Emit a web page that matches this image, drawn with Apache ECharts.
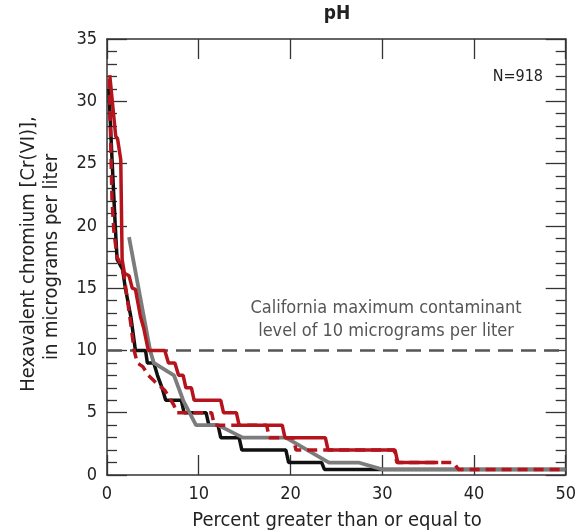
<!DOCTYPE html>
<html>
<head>
<meta charset="utf-8">
<script src="https://cdn.jsdelivr.net/npm/echarts@6/dist/echarts.min.js"></script>
<style>
html,body{margin:0;padding:0;background:#fff;}
#chart{width:579px;height:532px;}
</style>
</head>
<body>
<div id="chart"></div>
<script>
// ---- data (percent greater than or equal to, Cr(VI) µg/L) ----
var blackSeries = [[0.2,31],[0.55,25.3],[0.9,20],[1.1,17.3],[1.7,16.5],[2.0,15],[2.6,12.7],[3.1,10],[4.2,10],[4.4,9],[5.1,9],[5.5,8],[6.0,7],[6.4,6],[8.1,6],[8.4,5],[10.8,5],[11.1,4],[12.1,4],[12.4,3],[14.4,3],[14.7,2],[19.5,2],[19.8,1],[23.4,1],[23.7,0.45],[50,0.45]];
var redSolidSeries = [[0.3,32.1],[0.95,27.2],[1.15,27],[1.5,25.3],[1.65,17.3],[1.9,16.2],[2.4,16],[2.75,15],[3.1,14.9],[3.65,12.7],[4.0,11.8],[4.5,10],[6.3,10],[6.7,9],[7.4,9],[7.8,8],[8.3,8],[8.6,7],[9.2,7],[9.5,6],[12.4,6],[12.7,5],[14.1,5],[14.4,4],[19.1,4],[19.4,3],[23.8,3],[24.1,2],[31.4,2],[31.7,1],[36.1,1]];
var redDashedSeries = [[0.25,31.8],[0.55,22],[0.76,19.5],[1.1,17.5],[1.5,16.9],[1.84,16.1],[2.2,14.2],[2.6,12.1],[2.96,10],[3.3,9],[3.9,8.7],[4.5,8],[5.2,7.5],[6.3,6.8],[7.3,5.6],[7.6,5],[11.4,5],[11.7,4],[17.4,4],[17.7,3],[20.3,3],[20.6,2],[31.3,2],[31.6,1],[37.8,1],[38.3,0.45],[50,0.45]];
var graySeries = [[2.4,19.1],[4.7,10],[5.1,9],[7.3,8],[8.3,6],[9.7,4],[12.1,4],[14.8,3],[19.5,3],[24.2,1],[27.4,1],[30,0.45],[50,0.45]];
var mclValue = 10;
var mclLine = [[0, mclValue],[50, mclValue]];
var xTicks = [0,10,20,30,40,50];
var yTicks = [0,5,10,15,20,25,30,35];
var titleText = 'pH';
var xName = 'Percent greater than or equal to';
var yName1 = 'Hexavalent chromium [Cr(VI)],';
var yName2 = 'in micrograms per liter';
var nText = 'N=918';
var mclText1 = 'California maximum contaminant';
var mclText2 = 'level of 10 micrograms per liter';

var FONT = "'Liberation Sans Narrow','DejaVu Sans Condensed','Roboto Condensed','Arial Narrow',sans-serif";
var axisColor = '#333';

function xAxisCfg(pos, showLabel){
  return {
    type:'value', position:pos, min:xTicks[0], max:xTicks[xTicks.length-1], interval:10,
    axisLine:{show:true, onZero:false, lineStyle:{color:axisColor, width:1.5}},
    axisTick:{show:true, inside:true, length:20, lineStyle:{color:axisColor, width:1.3}},
    axisLabel:{show:showLabel, margin:10, color:'#222', fontSize:18, fontFamily:FONT},
    splitLine:{show:false}
  };
}
function yAxisCfg(pos, showLabel){
  return {
    type:'value', position:pos, min:yTicks[0], max:yTicks[yTicks.length-1], interval:5,
    axisLine:{show:true, onZero:false, lineStyle:{color:axisColor, width:1.5}},
    axisTick:{show:true, inside:true, length:20, lineStyle:{color:axisColor, width:1.3}},
    minorTick:{show:true, splitNumber:5, length:10, lineStyle:{color:axisColor, width:1.3}},
    axisLabel:{show:showLabel, margin:10, color:'#222', fontSize:18, fontFamily:FONT},
    splitLine:{show:false}, minorSplitLine:{show:false}
  };
}

var chart = echarts.init(document.getElementById('chart'), null, {renderer:'canvas'});
chart.setOption({
  animation:false,
  backgroundColor:'#fff',
  grid:{left:107, right:10, top:39, bottom:57},
  xAxis:[xAxisCfg('bottom', true), xAxisCfg('top', false)],
  yAxis:[yAxisCfg('left', true), yAxisCfg('right', false)],
  series:[
    {type:'line', data:mclLine, showSymbol:false, lineStyle:{color:'#555', width:2.5, type:[15,8]}, z:1},
    {type:'line', data:blackSeries, showSymbol:false, lineStyle:{color:'#111', width:3.5}, z:2},
    {type:'line', data:graySeries, showSymbol:false, lineStyle:{color:'#7c7c7c', width:3.8}, z:3},
    {type:'line', data:redSolidSeries, showSymbol:false, lineStyle:{color:'#b5141c', width:3.5}, z:4},
    {type:'line', data:redDashedSeries, showSymbol:false, lineStyle:{color:'#b5141c', width:3.5, type:[10,6]}, z:5}
  ],
  graphic:[
    {type:'text', x:337, y:14, style:{text:titleText, font:"bold 19px "+FONT, fill:'#222', textAlign:'center', textVerticalAlign:'middle'}},
    {type:'text', x:337, y:521, style:{text:xName, font:"20px "+FONT, fill:'#222', textAlign:'center', textVerticalAlign:'middle'}},
    {type:'text', x:29, y:254, rotation:Math.PI/2, style:{text:yName1, font:"20px "+FONT, fill:'#222', textAlign:'center', textVerticalAlign:'middle'}},
    {type:'text', x:52, y:257, rotation:Math.PI/2, style:{text:yName2, font:"20px "+FONT, fill:'#222', textAlign:'center', textVerticalAlign:'middle'}},
    {type:'text', x:543, y:77, style:{text:nText, font:"16px "+FONT, fill:'#222', textAlign:'right', textVerticalAlign:'middle'}},
    {type:'text', x:386, y:308, style:{text:mclText1, font:"18px "+FONT, fill:'#555', textAlign:'center', textVerticalAlign:'middle'}},
    {type:'text', x:386, y:331, style:{text:mclText2, font:"18px "+FONT, fill:'#555', textAlign:'center', textVerticalAlign:'middle'}}
  ]
});
</script>
</body>
</html>
